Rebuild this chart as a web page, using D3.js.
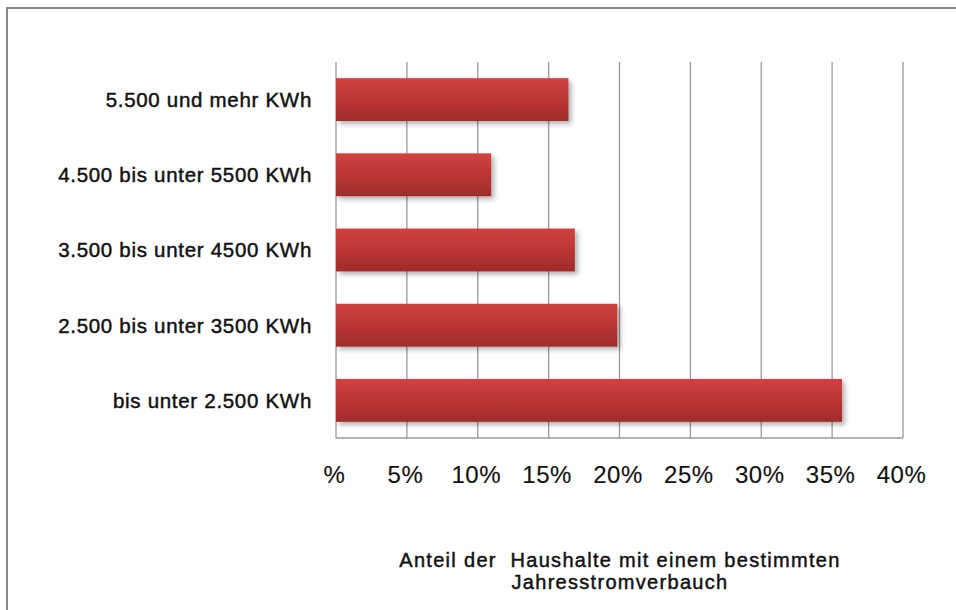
<!DOCTYPE html>
<html>
<head>
<meta charset="utf-8">
<script src="https://cdn.jsdelivr.net/npm/d3@7"></script>
<style>
  body { margin: 0; background: #fff; }
  svg { display: block; font-family: "Liberation Sans", Arial, sans-serif; }
  text { fill: #111; stroke: #111; stroke-width: 0.45px; }
  text.tick { stroke-width: 0.15px; }
</style>
</head>
<body>
<svg id="chart" width="956" height="610"></svg>
<script>
// categories top to bottom
const categories = [
  "5.500 und mehr KWh",
  "4.500 bis unter 5500 KWh",
  "3.500 bis unter 4500 KWh",
  "2.500 bis unter 3500 KWh",
  "bis unter 2.500 KWh"
];
const shares = [16.4, 10.95, 16.85, 19.85, 35.7];
const tickValues = [0, 5, 10, 15, 20, 25, 30, 35, 40];
const tickLabels = ["%", "5%", "10%", "15%", "20%", "25%", "30%", "35%", "40%"];
const titleLines = ["Anteil der  Haushalte mit einem bestimmten", "Jahresstromverbauch"];

const svg = d3.select("#chart");

const plot = { left: 336, right: 903, top: 62, bottom: 438 };

const defs = svg.append("defs");
const grad = defs.append("linearGradient")
  .attr("id", "barGrad")
  .attr("x1", 0).attr("y1", 0).attr("x2", 0).attr("y2", 1);
grad.append("stop").attr("offset", "0%").attr("stop-color", "#d1413f");
grad.append("stop").attr("offset", "55%").attr("stop-color", "#b83533");
grad.append("stop").attr("offset", "100%").attr("stop-color", "#9e2c2a");

const shadow = defs.append("filter")
  .attr("id", "shadow")
  .attr("x", "-5%").attr("y", "-20%").attr("width", "115%").attr("height", "160%");
shadow.append("feDropShadow")
  .attr("dx", 3).attr("dy", 3)
  .attr("stdDeviation", 2.5)
  .attr("flood-color", "#000")
  .attr("flood-opacity", 0.3);

// outer frame (runs off the right and bottom edges)
svg.append("rect")
  .attr("x", 7).attr("y", 8)
  .attr("width", 1000).attr("height", 700)
  .attr("fill", "none")
  .attr("stroke", "#8a8a8a")
  .attr("stroke-width", 2);

const x = d3.scaleLinear()
  .domain([0, 40])
  .range([plot.left, plot.right]);

const y = d3.scaleBand()
  .domain(categories)
  .range([plot.top, plot.bottom])
  .paddingInner(0.43)
  .paddingOuter(0.215);

// vertical gridlines
svg.append("g")
  .selectAll("line")
  .data(tickValues)
  .join("line")
  .attr("x1", d => x(d)).attr("x2", d => x(d))
  .attr("y1", plot.top).attr("y2", plot.bottom)
  .attr("stroke", "#9a9a9a")
  .attr("stroke-width", 1.3);

// bottom line
svg.append("line")
  .attr("x1", plot.left).attr("x2", plot.right)
  .attr("y1", plot.bottom).attr("y2", plot.bottom)
  .attr("stroke", "#9a9a9a")
  .attr("stroke-width", 1.3);

const data = categories.map((c, i) => ({ name: c, value: shares[i] }));

svg.append("g")
  .selectAll("rect")
  .data(data)
  .join("rect")
  .attr("x", x(0))
  .attr("y", d => y(d.name))
  .attr("width", d => x(d.value) - x(0))
  .attr("height", y.bandwidth())
  .attr("fill", "url(#barGrad)")
  .attr("filter", "url(#shadow)");

// category labels
svg.append("g")
  .selectAll("text")
  .data(categories)
  .join("text")
  .attr("x", 312)
  .attr("y", d => y(d) + y.bandwidth() / 2)
  .attr("dy", "0.36em")
  .attr("text-anchor", "end")
  .attr("font-size", 20.5)
  .attr("letter-spacing", 0.7)
  .text(d => d);

// tick labels
svg.append("g")
  .selectAll("text")
  .data(tickValues)
  .join("text")
  .attr("class", "tick")
  .attr("x", d => x(d) - 1.5)
  .attr("y", 483)
  .attr("text-anchor", "middle")
  .attr("font-size", 24)
  .attr("letter-spacing", 0.5)
  .text((d, i) => tickLabels[i]);

// axis title
svg.append("g")
  .selectAll("text")
  .data(titleLines)
  .join("text")
  .attr("x", 620)
  .attr("y", (d, i) => 567 + i * 22)
  .attr("text-anchor", "middle")
  .attr("font-size", 20)
  .attr("letter-spacing", 1.3)
  .style("white-space", "pre")
  .text(d => d);
</script>
</body>
</html>
